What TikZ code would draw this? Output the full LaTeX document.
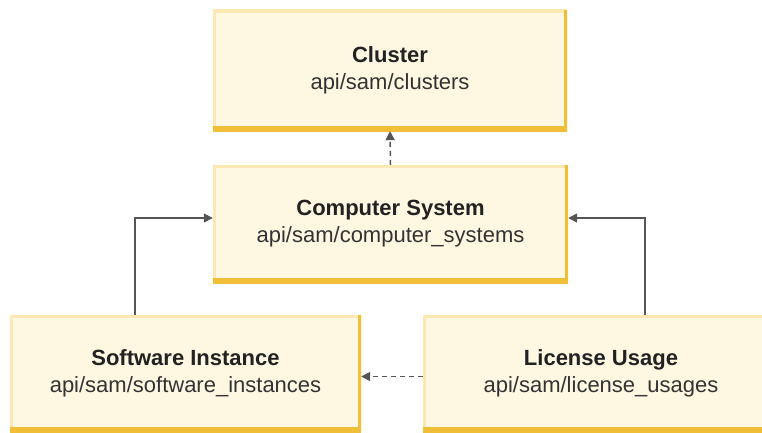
\documentclass[tikz,border=0pt]{standalone}
\usepackage{fontspec}
\setmainfont{Liberation Sans}
\usetikzlibrary{arrows.meta}
\definecolor{boxfill}{HTML}{FEF7E1}
\definecolor{boxlight}{HTML}{FBE8B3}
\definecolor{boxdark}{HTML}{F1BE38}
\definecolor{linegray}{HTML}{555555}
\definecolor{txt}{HTML}{222222}
\definecolor{subtxt}{HTML}{333333}
\tikzset{
  entity/.style={fill=boxfill, draw=none, inner sep=0pt, align=center,
    text=txt, font=\fontsize{22}{27}\selectfont,
    path picture={
      \draw[boxlight, line width=6pt]
        (path picture bounding box.south west) -- (path picture bounding box.north west)
        -- (path picture bounding box.north east);
      \draw[boxdark, line width=6pt]
        (path picture bounding box.north east) -- (path picture bounding box.south east);
      \draw[boxdark, line width=10pt]
        (path picture bounding box.south east) -- (path picture bounding box.south west);
    }},
  conn/.style={draw=linegray, line width=1.5pt, -{Triangle[length=9pt,width=9pt]}},
  dashconn/.style={conn, dash pattern=on 5pt off 4pt},
}
\newcommand{\sub}[1]{\textcolor{subtxt}{#1}}
\begin{document}
\begin{tikzpicture}[x=1pt,y=-1pt]
\useasboundingbox (0,0) rectangle (762,433);
\node[entity, minimum width=354pt, minimum height=121pt] (cl) at (390,70.5)
  {\textbf{Cluster}\\\sub{api/sam/clusters}};
\node[entity, minimum width=355pt, minimum height=118pt] (cs) at (390.5,224)
  {\textbf{Computer System}\\\sub{api/sam/computer\_systems}};
\node[entity, minimum width=351pt, minimum height=117pt] (sw) at (185.5,373.5)
  {\textbf{Software Instance}\\\sub{api/sam/software\_instances}};
\node[entity, minimum width=356pt, minimum height=117pt] (lu) at (601,373.5)
  {\textbf{License Usage}\\\sub{api/sam/license\_usages}};
\draw[dashconn] (cs.north) -- (cl.south);
\draw[conn] ([xshift=-50.5pt]sw.north) |- ([yshift=6pt]cs.west);
\draw[conn] ([xshift=44pt]lu.north) |- ([yshift=6pt]cs.east);
\draw[dashconn] ([yshift=-3pt]lu.west) -- ([yshift=-3pt]sw.east);
\end{tikzpicture}
\end{document}
